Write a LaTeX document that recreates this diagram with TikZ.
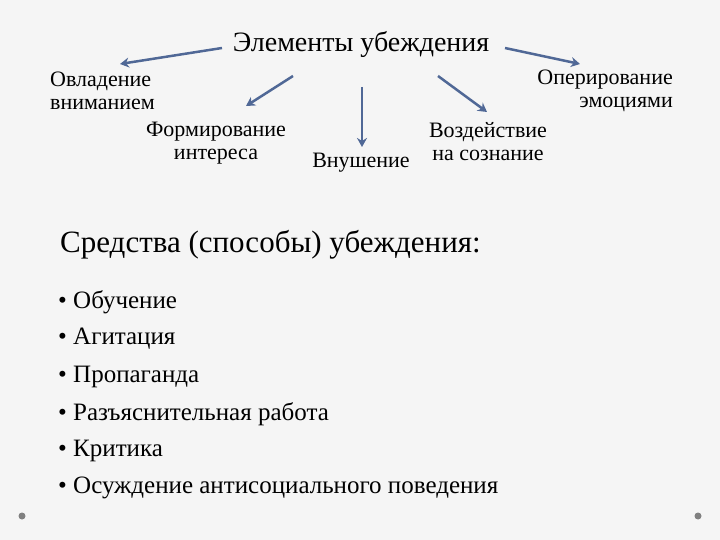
\documentclass[tikz,border=0pt]{standalone}
\usepackage{fontspec}
\usetikzlibrary{arrows.meta}
\setmainfont{Liberation Serif}
\begin{document}
\begin{tikzpicture}[x=1pt,y=-1pt,
  lbl/.style={font=\fontsize{22}{23}\selectfont, inner sep=0pt, align=center},
  arr/.style={draw=arrowc, line width=2.5pt, -{Stealth[length=9pt,width=10pt]}},
  bul/.style={font=\fontsize{25}{26}\selectfont, anchor=west, inner sep=0pt}]
\definecolor{arrowc}{RGB}{80,104,150}
\fill[gray!8] (0,0) rectangle (720,540);
\useasboundingbox (0,0) rectangle (720,540);
\node[lbl, font=\fontsize{28}{30}\selectfont] (t) at (361,45) {Элементы убеждения};
\node[lbl, align=left, anchor=west] (a) at (50,91) {Овладение\\вниманием};
\node[lbl] (b) at (216,143) {Формирование\\интереса};
\node[lbl] (c) at (361,163) {Внушение};
\node[lbl] (d) at (488,142) {Воздействие\\на сознание};
\node[lbl, align=right, anchor=east] (e) at (673,91) {Оперирование\\эмоциями};
\coordinate (tl) at (222,48);
\coordinate (tr) at (505,48);
\draw[arr] (tl) -- (120,64);
\draw[arr] (293,76) -- (246,106);
\draw[arr] (362,87) -- (362,147);
\draw[arr] (438,76) -- (487,112);
\draw[arr] (tr) -- (580,64);
\node[font=\fontsize{31}{33}\selectfont, anchor=west, inner sep=0pt] (s) at (60,245) {Средства (способы) убеждения:};
\node[bul] (b1) at (58,302) {• Обучение};
\node[bul] (b2) at (58,339) {• Агитация};
\node[bul] (b3) at (58,377) {• Пропаганда};
\node[bul] (b4) at (58,414) {• Разъяснительная работа};
\node[bul] (b5) at (58,451) {• Критика};
\node[bul] (b6) at (58,488) {• Осуждение антисоциального поведения};
\fill[gray] (22,516) circle (3.5);
\fill[gray] (698,516) circle (3.5);
\end{tikzpicture}
\end{document}
